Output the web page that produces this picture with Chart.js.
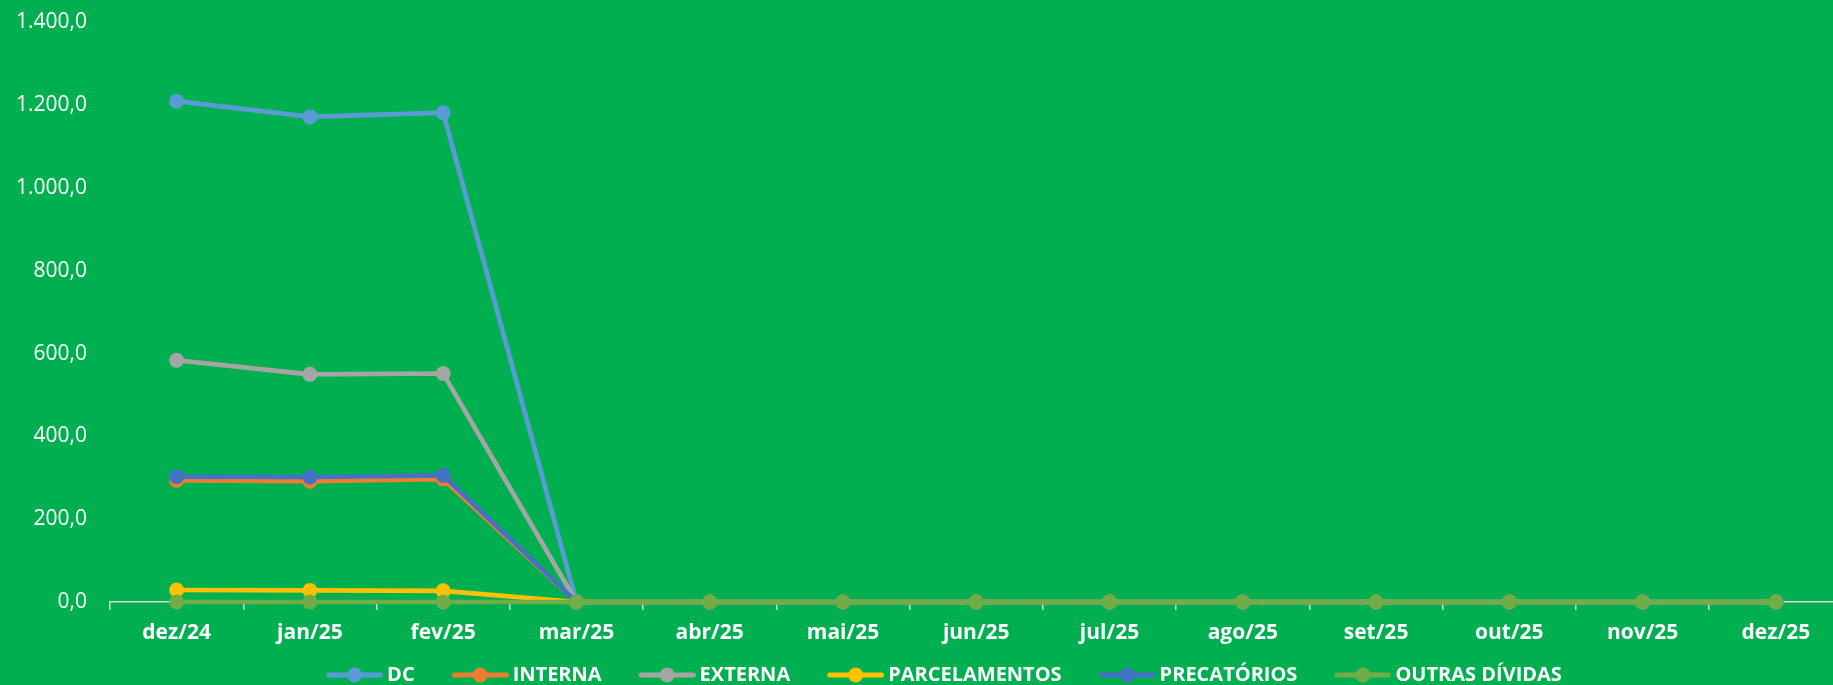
<!DOCTYPE html>
<html>
<head>
<meta charset="utf-8">
<script src="https://cdn.jsdelivr.net/npm/chart.js@4.4.1/dist/chart.umd.min.js"></script>
<style>
  html, body { margin: 0; padding: 0; background: #00B050; overflow: hidden; }
  #wrap { width: 1850px; height: 685px; }
</style>
</head>
<body>
<div id="wrap"><canvas id="c" width="1850" height="685"></canvas></div>
<script>
const categories = ['dez/24','jan/25','fev/25','mar/25','abr/25','mai/25','jun/25','jul/25','ago/25','set/25','out/25','nov/25','dez/25'];
const seriesNames = ['DC','INTERNA','EXTERNA','PARCELAMENTOS','PRECATÓRIOS','OUTRAS DÍVIDAS'];
const dc            = [1210, 1172, 1182, 0, 0, 0, 0, 0, 0, 0, 0, 0, 0];
const interna       = [294, 292, 297, 0, 0, 0, 0, 0, 0, 0, 0, 0, 0];
const externa       = [584, 550, 552, 0, 0, 0, 0, 0, 0, 0, 0, 0, 0];
const parcelamentos = [29, 28, 27, 0, 0, 0, 0, 0, 0, 0, 0, 0, 0];
const precatorios   = [303, 302, 306, 0, 0, 0, 0, 0, 0, 0, 0, 0, 0];
const outras        = [0, 0, 0, 0, 0, 0, 0, 0, 0, 0, 0, 0, 0];
const yTicks = [0, 200, 400, 600, 800, 1000, 1200, 1400];

const colors = ['#5B9BD5','#ED7D31','#A5A5A5','#FFC000','#4472C4','#70AD47'];
const seriesValues = [dc, interna, externa, parcelamentos, precatorios, outras];

function fmt(v) {
  const s = Math.round(v).toString().replace(/\B(?=(\d{3})+(?!\d))/g, '.');
  return s + ',0';
}

// legend marker: transparent left part (33px) + line with circle (57px)
function legendMarker(color) {
  const cv = document.createElement('canvas');
  cv.width = 90; cv.height = 16;
  const g = cv.getContext('2d');
  g.strokeStyle = color; g.lineWidth = 5; g.lineCap = 'round';
  g.beginPath(); g.moveTo(35.5, 8); g.lineTo(87.5, 8); g.stroke();
  g.fillStyle = color;
  g.beginPath(); g.arc(61.5, 8, 7.5, 0, Math.PI * 2); g.fill();
  return cv;
}
const markers = colors.map(legendMarker);

const datasets = seriesNames.map((name, i) => ({
  label: name,
  data: seriesValues[i],
  borderColor: colors[i],
  backgroundColor: colors[i],
  borderWidth: 4.7,
  pointRadius: 7.5,
  pointHoverRadius: 7.5,
  pointBorderWidth: 0,
  pointBackgroundColor: colors[i],
  tension: 0,
  clip: false,
  order: seriesNames.length - 1 - i
}));

const legendShift = {
  id: 'legendShift',
  afterLayout(chart) {
    const lg = chart.legend;
    if (!lg || !lg.lineWidths) return;
    const pad = lg.options.labels.padding;
    const lw = lg.lineWidths[0];
    const x0 = (lg.left + pad + lg.right - lw) / 2;
    const center = x0 + (27 + lw - pad) / 2;
    const dx = 944 - center;
    lg.left += dx; lg.right += dx;
    const dy = 675 - (lg.top + pad + 10);
    lg.top += dy; lg.bottom += dy;
  }
};

new Chart(document.getElementById('c'), {
  type: 'line',
  data: { labels: categories, datasets },
  plugins: [legendShift],
  options: {
    responsive: false,
    animation: false,
    layout: { padding: { top: 22.5, right: 7, left: 0, bottom: 0 } },
    plugins: {
      tooltip: { enabled: false },
      legend: {
        position: 'bottom',
        labels: {
          color: '#FFFFFF',
          font: { family: "'Open Sans', sans-serif", size: 20, weight: 'bold' },
          usePointStyle: true,
          pointStyleWidth: 78,
          boxHeight: 16,
          padding: 10,
          sort: (a, b) => a.datasetIndex - b.datasetIndex,
          generateLabels(chart) {
            const items = Chart.defaults.plugins.legend.labels.generateLabels(chart);
            items.forEach(it => { it.pointStyle = markers[it.datasetIndex]; });
            return items;
          }
        }
      }
    },
    scales: {
      x: {
        offset: true,
        grid: { display: true, drawOnChartArea: false, drawTicks: true, tickLength: 8, color: '#D9D9D9', lineWidth: 1.5, offset: true },
        border: { display: true, color: '#D9D9D9', width: 1.5 },
        ticks: { color: '#FFFFFF', padding: 10, maxRotation: 0, autoSkip: false,
                 font: { family: "'Open Sans', sans-serif", size: 21, weight: 'bold' } },
        afterFit(scale) { scale.height = 43; }
      },
      y: {
        min: 0, max: 1400,
        afterBuildTicks(scale) { scale.ticks = yTicks.map(v => ({ value: v })); },
        grid: { display: false, drawTicks: false },
        border: { display: false },
        ticks: { color: '#FFFFFF', padding: 23, callback: v => fmt(v),
                 font: { family: "'Open Sans', sans-serif", size: 21 } },
        afterFit(scale) { scale.width = 110; scale.paddingTop = 0; scale.paddingBottom = 0; }
      }
    }
  }
});
</script>
</body>
</html>
